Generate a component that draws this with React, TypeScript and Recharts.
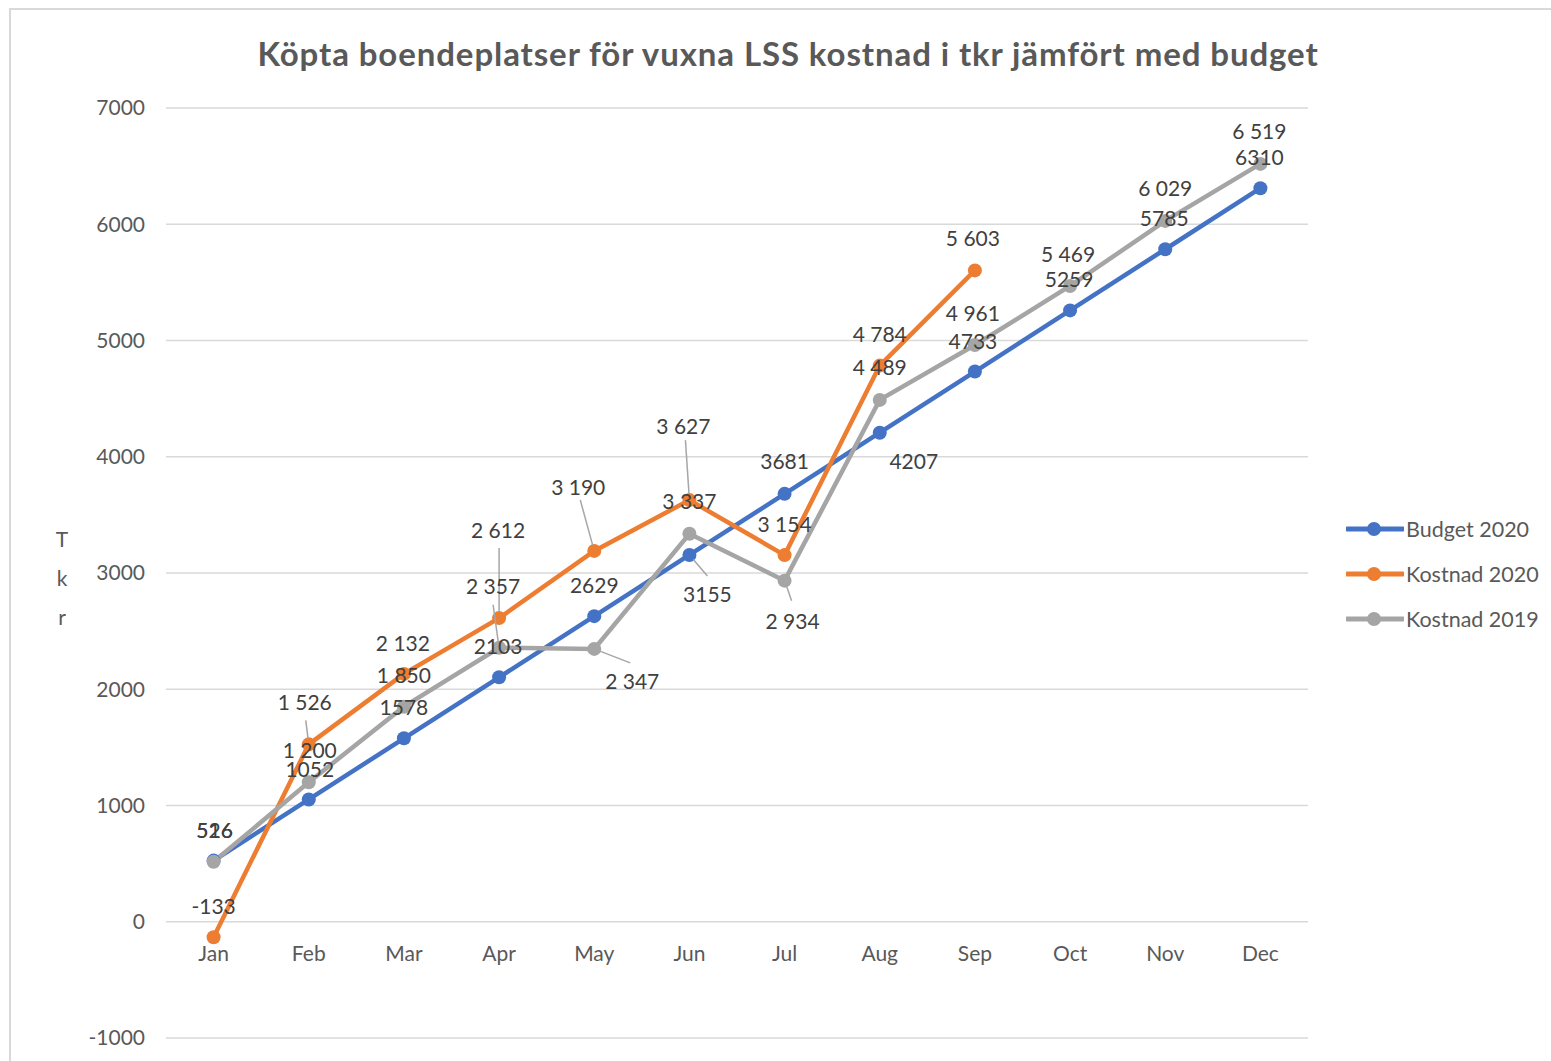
import React from 'react';
import { LineChart, Line, XAxis, YAxis, CartesianGrid } from 'recharts';

const months = ['Jan', 'Feb', 'Mar', 'Apr', 'May', 'Jun', 'Jul', 'Aug', 'Sep', 'Oct', 'Nov', 'Dec'];
const budget2020 = [526, 1052, 1578, 2103, 2629, 3155, 3681, 4207, 4733, 5259, 5785, 6310];
const kostnad2020 = [-133, 1526, 2132, 2612, 3190, 3627, 3154, 4784, 5603];
const kostnad2019 = [516, 1200, 1850, 2357, 2347, 3337, 2934, 4489, 4961, 5469, 6029, 6519];
const yTicks = [-1000, 0, 1000, 2000, 3000, 4000, 5000, 6000, 7000];

const seriesNames = ['Budget 2020', 'Kostnad 2020', 'Kostnad 2019'];
const colors = ['#4472C4', '#ED7D31', '#A5A5A5'];

// label placement (dx, dy of label centre; optional leader-line end dx, dy) relative to each point
type LP = number[];
const budgetLP: LP[] = [[1, -31], [1, -31], [0, -32], [-1, -32], [0, -32], [18, 39, 18, 21], [0, -33], [34, 28], [-2, -31], [-1, -32], [-1, -32], [-1, -32]];
const kost20LP: LP[] = [[0, -32], [-4, -43, -3, -24], [-1, -31], [-1, -89, 0, -70], [-16, -64, -14, -51], [-6, -75, -4, -60], [0, -32], [0, -32], [-2, -33]];
const kost19LP: LP[] = [[1, -32], [1, -33], [0, -32], [-6, -62, -6, -43], [38, 32, 36, 14], [0, -33], [8, 40, 7, 20], [0, -33], [-2, -33], [-2, -32], [0, -33], [-1, -33]];

const data = months.map((m, i) => ({
  month: m,
  b20: budget2020[i] ?? null,
  k20: kostnad2020[i] ?? null,
  k19: kostnad2019[i] ?? null,
}));

const FONT = 'Lato, "Open Sans", sans-serif';

const plain = (v: number) => String(v);
const spaced = (v: number) => {
  const s = String(Math.abs(v));
  const t = s.length > 3 ? s.slice(0, s.length - 3) + ' ' + s.slice(s.length - 3) : s;
  return (v < 0 ? '-' : '') + t;
};

const makeLabel = (pos: LP[], fmt: (v: number) => string) => (props: any) => {
  const { x, y, value, index } = props;
  if (value === null || value === undefined || x == null || y == null) return null;
  const p = pos[index] || [0, -32];
  const [dx, dy, lx, ly] = p;
  let leader = null;
  if (lx !== undefined && ly !== undefined) {
    const len = Math.sqrt(lx * lx + ly * ly) || 1;
    const sx = (lx / len) * 6;
    const sy = (ly / len) * 6;
    leader = <line x1={x + sx} y1={y + sy} x2={x + lx} y2={y + ly} stroke="#A6A6A6" strokeWidth={1.5} />;
  }
  return (
    <g key={`lbl-${index}`}>
      {leader}
      <text
        x={x + dx}
        y={y + dy}
        textAnchor="middle"
        dominantBaseline="central"
        fill="#404040"
        fontSize={21}
        fontFamily={FONT}
      >
        {fmt(value)}
      </text>
    </g>
  );
};

const XTick = (props: any) => {
  const { x, y, payload } = props;
  return (
    <text x={x} y={y - 86} textAnchor="middle" dominantBaseline="central" fill="#595959" fontSize={21} fontFamily={FONT}>
      {payload.value}
    </text>
  );
};

const LegendBox = () => (
  <div style={{ position: 'absolute', left: 1346, top: 506, fontFamily: FONT }}>
    {seriesNames.map((n, i) => (
      <div key={n} style={{ display: 'flex', alignItems: 'center', height: 45 }}>
        <svg width={58} height={16} style={{ display: 'block' }}>
          <line x1={1} y1={8} x2={57} y2={8} stroke={colors[i]} strokeWidth={5} strokeLinecap="round" />
          <circle cx={28} cy={8} r={7} fill={colors[i]} />
        </svg>
        <span style={{ fontSize: 21.5, color: '#595959', marginLeft: 2, whiteSpace: 'nowrap' }}>{n}</span>
      </div>
    ))}
  </div>
);

export default function App() {
  return (
    <div style={{ position: 'absolute', left: 0, top: 0, width: 1551, height: 1061, overflow: 'hidden', background: '#fff' }}>
      <div style={{ position: 'absolute', left: 9, top: 8, width: 1700, height: 1200, border: '2px solid #D9D9D9' }} />
      <div
        style={{
          position: 'absolute',
          left: 788,
          top: 53,
          transform: 'translate(-50%, -50%)',
          whiteSpace: 'nowrap',
          fontFamily: FONT,
          fontWeight: 700,
          fontSize: 33,
          letterSpacing: 0.9,
          color: '#595959',
        }}
      >
        Köpta boendeplatser för vuxna LSS kostnad i tkr jämfört med budget
      </div>
      {['T', 'k', 'r'].map((c, i) => (
        <div
          key={c}
          style={{
            position: 'absolute',
            left: 62,
            top: 538 + i * 39,
            transform: 'translate(-50%, -50%)',
            fontFamily: FONT,
            fontSize: 21,
            color: '#595959',
          }}
        >
          {c}
        </div>
      ))}
      <div style={{ position: 'absolute', left: 0, top: 0 }}>
        <LineChart width={1551} height={1061} data={data} margin={{ top: 108, right: 243, bottom: 0, left: 0 }}>
          <CartesianGrid vertical={false} stroke="#D9D9D9" strokeWidth={1.5} />
          <XAxis
            dataKey="month"
            height={23}
            axisLine={false}
            tickLine={false}
            tickSize={0}
            tickMargin={0}
            tick={XTick}
            interval={0}
            padding={{ left: 47.6, right: 47.6 }}
          />
          <YAxis
            width={166}
            domain={[-1000, 7000]}
            ticks={yTicks}
            axisLine={false}
            tickLine={false}
            tickSize={0}
            tickMargin={21}
            tick={{ fill: '#595959', fontSize: 21, fontFamily: FONT }}
          />
          <Line
            dataKey="b20"
            name={seriesNames[0]}
            stroke={colors[0]}
            strokeWidth={4.5}
            dot={{ r: 7, fill: colors[0], stroke: 'none' }}
            activeDot={false}
            isAnimationActive={false}
            label={makeLabel(budgetLP, plain)}
          />
          <Line
            dataKey="k20"
            name={seriesNames[1]}
            stroke={colors[1]}
            strokeWidth={4.5}
            dot={{ r: 7, fill: colors[1], stroke: 'none' }}
            activeDot={false}
            isAnimationActive={false}
            label={makeLabel(kost20LP, spaced)}
          />
          <Line
            dataKey="k19"
            name={seriesNames[2]}
            stroke={colors[2]}
            strokeWidth={4.5}
            dot={{ r: 7, fill: colors[2], stroke: 'none' }}
            activeDot={false}
            isAnimationActive={false}
            label={makeLabel(kost19LP, spaced)}
          />
        </LineChart>
      </div>
      <LegendBox />
    </div>
  );
}
